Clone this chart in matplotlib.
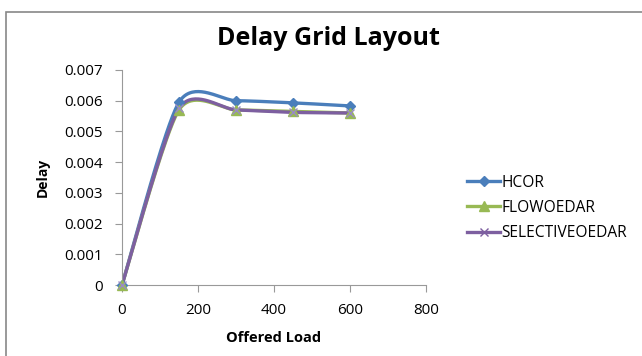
import numpy as np
import matplotlib.pyplot as plt
from matplotlib.patches import Rectangle

plt.rcParams['font.family'] = ['Open Sans', 'DejaVu Sans']

# offered load and delay per protocol
load = [0, 150, 300, 450, 600]
hcor = [0.0, 0.00595, 0.00600, 0.00593, 0.00583]
flowoedar = [0.0, 0.00570, 0.00570, 0.00565, 0.00560]
selectiveoedar = [0.0, 0.00575, 0.00570, 0.00562, 0.00560]


def smooth(x, y, n=40, k=8.0):
    # cardinal bezier through the points, like excel's smoothed line
    x = np.asarray(x, float)
    y = np.asarray(y, float)
    px, py = [], []
    for i in range(len(x) - 1):
        i0 = max(i - 1, 0)
        i3 = min(i + 2, len(x) - 1)
        c1x = x[i] + (x[i + 1] - x[i0]) / k
        c1y = y[i] + (y[i + 1] - y[i0]) / k
        c2x = x[i + 1] - (x[i3] - x[i]) / k
        c2y = y[i + 1] - (y[i3] - y[i]) / k
        t = np.linspace(0, 1, n)
        a = (1 - t) ** 3
        b = 3 * (1 - t) ** 2 * t
        c = 3 * (1 - t) * t ** 2
        d = t ** 3
        px.extend(a * x[i] + b * c1x + c * c2x + d * x[i + 1])
        py.extend(a * y[i] + b * c1y + c * c2y + d * y[i + 1])
    return px, py


fig = plt.figure(figsize=(6.42, 3.56), dpi=100)
fig.patches.append(Rectangle((6 / 642, -0.1), 1.0, 1 - 12 / 356 + 0.1,
                             transform=fig.transFigure, fill=False,
                             edgecolor='#888888', linewidth=1.2))
ax = fig.add_axes([0.190, 0.1994, 0.4736, 0.604])

series = [
    ('HCOR', hcor, '#4a7ebb', 'D', 5),
    ('FLOWOEDAR', flowoedar, '#98b954', '^', 7),
    ('SELECTIVEOEDAR', selectiveoedar, '#7d5fa0', 'x', 6),
]
for name, vals, col, mk, ms in series:
    sx, sy = smooth(load, vals)
    ax.plot(sx, sy, color=col, linewidth=2.4, solid_capstyle='round')
    ax.plot(load, vals, linestyle='none', marker=mk, markersize=ms,
            color=col, markeredgecolor=col if mk != 'x' else '#9a8cc4',
            clip_on=False, zorder=3)
    ax.plot([], [], color=col, linewidth=2.4, marker=mk, markersize=ms,
            label=name)

ax.set_xlim(0, 800)
ax.set_ylim(0, 0.007)
ax.set_xticks([0, 200, 400, 600, 800])
ax.set_yticks(np.arange(0, 0.0071, 0.001))
ax.set_yticklabels(['0', '0.001', '0.002', '0.003', '0.004', '0.005',
                    '0.006', '0.007'])
for s in ['top', 'right']:
    ax.spines[s].set_visible(False)
for s in ['left', 'bottom']:
    ax.spines[s].set_color('#999999')
ax.tick_params(colors='#999999', labelcolor='black', labelsize=11,
               length=5, direction='out')
ax.tick_params(axis='y', pad=9)
ax.tick_params(axis='x', pad=8)
ax.set_xlabel('Offered Load', fontsize=10.5, fontweight='bold', labelpad=9)
ax.set_ylabel('Delay', fontsize=10, fontweight='bold', labelpad=10)

fig.text(0.511, 0.893, 'Delay Grid Layout', ha='center', va='center',
         fontsize=18, fontweight='bold')

fig.legend(loc='center left', bbox_to_anchor=(0.706, 0.416), frameon=False,
           fontsize=11.2, handlelength=2.1, handletextpad=0.1,
           labelspacing=0.6)

fig.savefig('out.png', dpi=100)
